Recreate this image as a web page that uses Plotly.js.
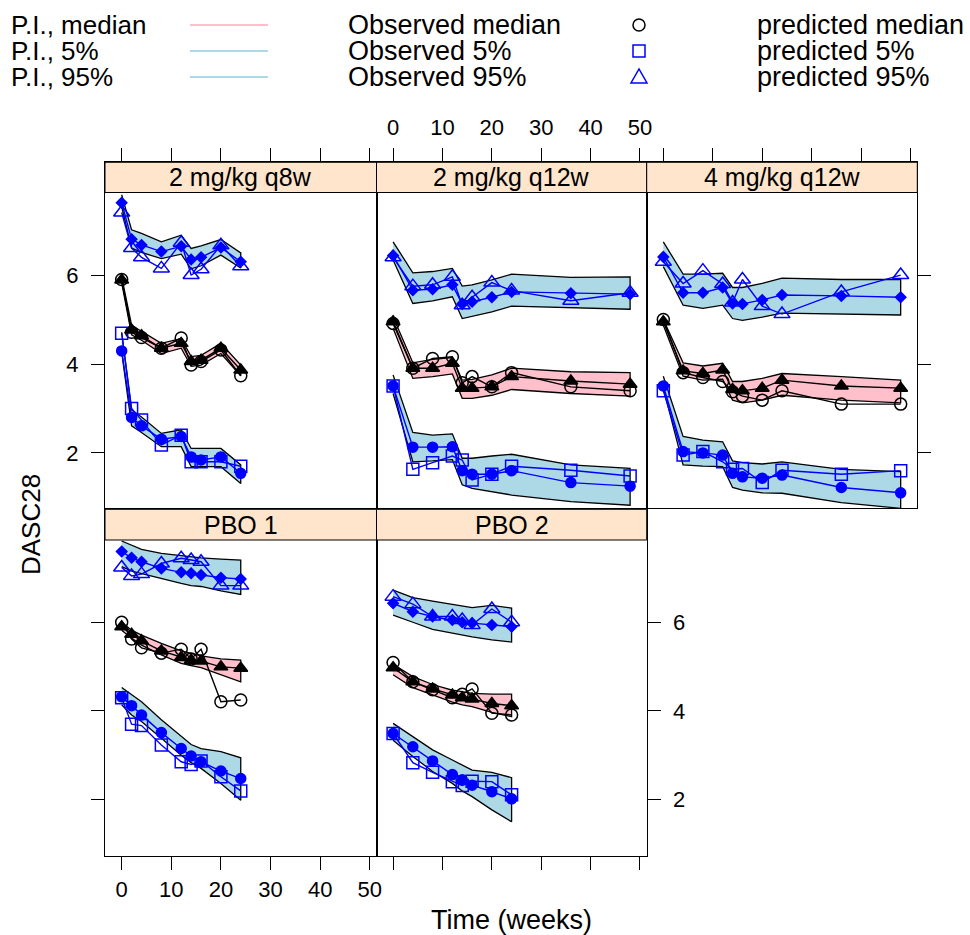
<!DOCTYPE html>
<html>
<head>
<meta charset="utf-8">
<script src="https://cdn.plot.ly/plotly-3.0.1.min.js"></script>
<style>html,body{margin:0;padding:0;background:#fff;}#chart{width:970px;height:935px;}</style>
</head>
<body>
<div id="chart"></div>
<script>
// ---------------- DATA ----------------
const panelNames = ["2 mg/kg q8w", "2 mg/kg q12w", "4 mg/kg q12w", "PBO 1", "PBO 2"];
const xTicks = [0, 10, 20, 30, 40, 50];
const yTicks = [2, 4, 6];

const timeA = [0, 2, 4, 8, 12, 14, 16, 20, 24];          // 2 mg/kg q8w, PBO 1
const timeB = [0, 4, 8, 12, 14, 16, 20, 24, 36, 48];     // 2 mg/kg q12w, 4 mg/kg q12w
const timeC = [0, 4, 8, 12, 14, 16, 20, 24];             // PBO 2

// Panel 1: 2 mg/kg q8w
const p1_obs95  = [7.42, 6.62, 6.41, 6.16, 6.74, 6.01, 6.14, 6.68, 6.21];
const p1_pred95 = [7.64, 6.82, 6.69, 6.54, 6.66, 6.36, 6.41, 6.63, 6.31];
const p1_pi95Hi = [7.82, 7.03, 6.95, 6.76, 6.91, 6.61, 6.67, 6.81, 6.51];
const p1_pi95Lo = [7.55, 6.62, 6.52, 6.38, 6.48, 6.15, 6.22, 6.46, 6.17];
const p1_obsMed  = [5.91, 4.72, 4.60, 4.36, 4.59, 3.98, 4.06, 4.32, 3.74];
const p1_predMed = [5.90, 4.77, 4.64, 4.36, 4.47, 4.06, 4.09, 4.36, 3.87];
const p1_piMedHi = [5.97, 4.88, 4.74, 4.47, 4.58, 4.17, 4.20, 4.47, 3.98];
const p1_piMedLo = [5.84, 4.66, 4.54, 4.24, 4.36, 3.95, 3.98, 4.24, 3.74];
const p1_obs5  = [4.70, 3.00, 2.74, 2.18, 2.40, 1.80, 1.80, 1.80, 1.70];
const p1_pred5 = [4.30, 2.80, 2.61, 2.31, 2.37, 1.91, 1.84, 1.91, 1.54];
const p1_pi5Hi = [4.72, 2.97, 2.81, 2.44, 2.52, 2.10, 2.10, 2.10, 1.73];
const p1_pi5Lo = [4.28, 2.61, 2.46, 2.14, 2.14, 1.69, 1.69, 1.69, 1.31];

// Panel 2: 2 mg/kg q12w
const p2_obs95  = [6.41, 5.76, 5.79, 5.97, 5.33, 5.51, 5.84, 5.66, 5.43, 5.61];
const p2_pred95 = [6.45, 5.67, 5.69, 5.79, 5.36, 5.41, 5.51, 5.63, 5.60, 5.58];
const p2_pi95Hi = [6.76, 6.06, 6.09, 6.16, 5.76, 5.79, 5.90, 6.03, 5.96, 5.97];
const p2_pi95Lo = [6.35, 5.37, 5.43, 5.52, 5.03, 5.07, 5.18, 5.31, 5.27, 5.24];
const p2_obsMed  = [4.92, 3.91, 4.13, 4.17, 3.58, 3.72, 3.49, 3.81, 3.49, 3.40];
const p2_predMed = [4.96, 3.91, 3.91, 4.02, 3.46, 3.46, 3.49, 3.72, 3.62, 3.55];
const p2_piMedHi = [5.07, 4.03, 4.11, 4.15, 3.64, 3.66, 3.76, 3.91, 3.83, 3.81];
const p2_piMedLo = [4.81, 3.68, 3.72, 3.78, 3.23, 3.23, 3.30, 3.43, 3.34, 3.28];
const p2_obs5  = [3.51, 1.63, 1.78, 1.93, 1.84, 1.39, 1.52, 1.70, 1.61, 1.48];
const p2_pred5 = [3.51, 2.13, 2.13, 2.14, 1.60, 1.52, 1.52, 1.60, 1.33, 1.25];
const p2_pi5Hi = [3.76, 2.46, 2.40, 2.43, 1.88, 1.88, 1.93, 1.97, 1.73, 1.65];
const p2_pi5Lo = [3.34, 1.80, 1.82, 1.85, 1.28, 1.20, 1.13, 1.05, 0.90, 0.82];

// Panel 3: 4 mg/kg q12w
const p3_obs95  = [6.31, 5.82, 6.11, 5.81, 5.39, 5.91, 5.31, 5.13, 5.63, 6.01];
const p3_pred95 = [6.42, 5.61, 5.61, 5.73, 5.37, 5.36, 5.45, 5.56, 5.54, 5.51];
const p3_pi95Hi = [6.76, 6.03, 6.03, 6.05, 5.73, 5.73, 5.82, 5.94, 5.91, 5.91];
const p3_pi95Lo = [6.20, 5.33, 5.26, 5.33, 5.03, 4.99, 5.06, 5.15, 5.13, 5.11];
const p3_obsMed  = [5.01, 3.81, 3.70, 3.61, 3.38, 3.28, 3.19, 3.40, 3.10, 3.10];
const p3_predMed = [4.96, 3.85, 3.79, 3.87, 3.43, 3.40, 3.46, 3.64, 3.51, 3.46];
const p3_piMedHi = [5.01, 4.03, 3.96, 4.02, 3.61, 3.61, 3.68, 3.79, 3.72, 3.64];
const p3_piMedLo = [4.88, 3.73, 3.64, 3.66, 3.19, 3.13, 3.19, 3.30, 3.19, 3.13];
const p3_obs5  = [3.40, 1.95, 2.03, 1.80, 1.63, 1.65, 1.33, 1.61, 1.52, 1.60];
const p3_pred5 = [3.51, 2.03, 2.00, 1.95, 1.54, 1.46, 1.43, 1.50, 1.22, 1.10];
const p3_pi5Hi = [3.73, 2.37, 2.29, 2.25, 1.82, 1.78, 1.75, 1.80, 1.63, 1.58];
const p3_pi5Lo = [3.46, 1.73, 1.70, 1.69, 1.22, 1.16, 1.10, 1.09, 0.88, 0.75];

// Panel 4: PBO 1
const p4_obs95  = [7.25, 7.06, 7.10, 7.34, 7.46, 7.42, 7.38, 6.84, 6.84];
const p4_pred95 = [7.61, 7.47, 7.38, 7.23, 7.14, 7.12, 7.08, 7.02, 6.99];
const p4_pi95Hi = [7.85, 7.76, 7.66, 7.57, 7.52, 7.50, 7.47, 7.44, 7.42];
const p4_pi95Lo = [7.27, 7.17, 7.10, 7.00, 6.89, 6.84, 6.82, 6.72, 6.64];
const p4_obsMed  = [6.01, 5.63, 5.43, 5.31, 5.40, 5.18, 5.40, 4.21, 4.25];
const p4_predMed = [5.91, 5.74, 5.59, 5.36, 5.21, 5.15, 5.13, 5.00, 4.97];
const p4_piMedHi = [6.01, 5.83, 5.72, 5.53, 5.36, 5.31, 5.25, 5.18, 5.15];
const p4_piMedLo = [5.83, 5.65, 5.49, 5.27, 5.08, 5.03, 4.98, 4.82, 4.66];
const p4_obs5  = [4.30, 3.70, 3.67, 3.23, 2.85, 2.79, 2.87, 2.51, 2.19];
const p4_pred5 = [4.32, 4.12, 3.91, 3.51, 3.15, 2.98, 2.85, 2.64, 2.47];
const p4_pi5Hi = [4.53, 4.38, 4.21, 3.80, 3.42, 3.24, 3.15, 3.08, 2.94];
const p4_pi5Lo = [4.14, 3.91, 3.76, 3.38, 3.00, 2.83, 2.70, 2.36, 1.98];

// Panel 5: PBO 2
const p5_obs95  = [6.59, 6.42, 6.14, 6.14, 6.06, 5.95, 6.31, 6.01];
const p5_pred95 = [6.44, 6.25, 6.14, 6.06, 6.01, 5.99, 5.95, 5.91];
const p5_pi95Hi = [6.74, 6.57, 6.49, 6.42, 6.39, 6.34, 6.39, 6.33];
const p5_pi95Lo = [6.17, 6.01, 5.85, 5.76, 5.72, 5.68, 5.61, 5.56];
const p5_obsMed  = [5.10, 4.66, 4.48, 4.30, 4.38, 4.50, 3.95, 3.91];
const p5_predMed = [4.98, 4.66, 4.50, 4.36, 4.30, 4.27, 4.17, 4.12];
const p5_piMedHi = [5.06, 4.78, 4.60, 4.47, 4.44, 4.40, 4.38, 4.38];
const p5_piMedLo = [4.82, 4.53, 4.36, 4.20, 4.14, 4.10, 3.97, 3.87];
const p5_obs5  = [3.49, 2.83, 2.61, 2.40, 2.31, 2.41, 2.40, 2.10];
const p5_pred5 = [3.49, 3.19, 2.87, 2.56, 2.44, 2.32, 2.17, 2.01];
const p5_pi5Hi = [3.72, 3.42, 3.12, 2.89, 2.78, 2.66, 2.61, 2.49];
const p5_pi5Lo = [3.34, 2.97, 2.63, 2.36, 2.19, 2.06, 1.76, 1.49];

const legendLeft  = ["P.I., median", "P.I., 5%", "P.I., 95%"];
const legendMid   = ["Observed median", "Observed 5%", "Observed 95%"];
const legendRight = ["predicted median", "predicted 5%", "predicted 95%"];

// ---------------- BUILD ----------------
const panelData = [
  {t: timeA, obs95: p1_obs95, pred95: p1_pred95, pi95Hi: p1_pi95Hi, pi95Lo: p1_pi95Lo, obsMed: p1_obsMed, predMed: p1_predMed, piMedHi: p1_piMedHi, piMedLo: p1_piMedLo, obs5: p1_obs5, pred5: p1_pred5, pi5Hi: p1_pi5Hi, pi5Lo: p1_pi5Lo},
  {t: timeB, obs95: p2_obs95, pred95: p2_pred95, pi95Hi: p2_pi95Hi, pi95Lo: p2_pi95Lo, obsMed: p2_obsMed, predMed: p2_predMed, piMedHi: p2_piMedHi, piMedLo: p2_piMedLo, obs5: p2_obs5, pred5: p2_pred5, pi5Hi: p2_pi5Hi, pi5Lo: p2_pi5Lo},
  {t: timeB, obs95: p3_obs95, pred95: p3_pred95, pi95Hi: p3_pi95Hi, pi95Lo: p3_pi95Lo, obsMed: p3_obsMed, predMed: p3_predMed, piMedHi: p3_piMedHi, piMedLo: p3_piMedLo, obs5: p3_obs5, pred5: p3_pred5, pi5Hi: p3_pi5Hi, pi5Lo: p3_pi5Lo},
  {t: timeA, obs95: p4_obs95, pred95: p4_pred95, pi95Hi: p4_pi95Hi, pi95Lo: p4_pi95Lo, obsMed: p4_obsMed, predMed: p4_predMed, piMedHi: p4_piMedHi, piMedLo: p4_piMedLo, obs5: p4_obs5, pred5: p4_pred5, pi5Hi: p4_pi5Hi, pi5Lo: p4_pi5Lo},
  {t: timeC, obs95: p5_obs95, pred95: p5_pred95, pi95Hi: p5_pi95Hi, pi95Lo: p5_pi95Lo, obsMed: p5_obsMed, predMed: p5_predMed, piMedHi: p5_piMedHi, piMedLo: p5_piMedLo, obs5: p5_obs5, pred5: p5_pred5, pi5Hi: p5_pi5Hi, pi5Lo: p5_pi5Lo}
];

const W = 970, H = 935;
const px = v => v / W;
const py = v => 1 - v / H;
const FONT = "Liberation Sans, Arial, Helvetica, sans-serif";
const PINK = "#FFC0CB", LBLUE = "#ADD8E6", BLUE = "#0000FF";

// column edges (px) and row extents (px)
const cols = [[105, 376.5], [376.5, 646.7], [646.7, 917.3]];
const rows = [
  {stripTop: 162.3, stripBot: 192.5, bot: 508.3, yBot: 0.751, pxu: 44.35},
  {stripTop: 509.3, stripBot: 540.0, bot: 855.8, yBot: 0.720, pxu: 44.15}
];
const pos = [[0, 0], [0, 1], [0, 2], [1, 0], [1, 1]]; // [row, col]

const traces = [];
const layout = {
  width: W, height: H,
  margin: {l: 0, r: 0, t: 0, b: 0},
  paper_bgcolor: "#ffffff",
  plot_bgcolor: "rgba(0,0,0,0)",
  showlegend: false,
  font: {family: FONT, color: "#000", size: 22},
  shapes: [], annotations: []
};

function band(t, hi, lo, color, xa, ya) {
  return {
    x: t.concat(t.slice().reverse()),
    y: hi.concat(lo.slice().reverse()),
    xaxis: xa, yaxis: ya, type: "scatter", mode: "lines",
    fill: "toself", fillcolor: color,
    line: {color: "#000", width: 1.3}, hoverinfo: "skip"
  };
}
function series(t, y, color, symbol, size, xa, ya) {
  return {
    x: t, y: y, xaxis: xa, yaxis: ya, type: "scatter", mode: "lines+markers",
    line: {color: color, width: 1.4},
    marker: {symbol: symbol, size: size, color: color, line: {color: color, width: 1.5}},
    cliponaxis: false
  };
}

panelData.forEach((d, i) => {
  const k = i + 1;
  const xa = "x" + (k === 1 ? "" : k), ya = "y" + (k === 1 ? "" : k);
  const [r, c] = pos[i];
  const R = rows[r], C = cols[c];
  const yTop = R.yBot + (R.bot - R.stripTop) / R.pxu;

  traces.push(band(d.t, d.pi95Hi, d.pi95Lo, LBLUE, xa, ya));
  traces.push(band(d.t, d.piMedHi, d.piMedLo, PINK, xa, ya));
  traces.push(band(d.t, d.pi5Hi, d.pi5Lo, LBLUE, xa, ya));
  traces.push(series(d.t, d.obsMed, "#000", "circle-open", 12, xa, ya));
  traces.push(series(d.t, d.obs5, BLUE, "square-open", 12, xa, ya));
  traces.push(series(d.t, d.obs95, BLUE, "triangle-up-open", 14, xa, ya));
  traces.push(series(d.t, d.predMed, "#000", "triangle-up", 12, xa, ya));
  traces.push(series(d.t, d.pred5, BLUE, "circle", 10, xa, ya));
  traces.push(series(d.t, d.pred95, BLUE, "diamond", 8, xa, ya));

  const xKey = "xaxis" + (k === 1 ? "" : k), yKey = "yaxis" + (k === 1 ? "" : k);
  const topRow = r === 0;
  const xLabels = (i === 1 || i === 3);
  layout[xKey] = {
    domain: [px(C[0]), px(C[1])], anchor: ya, range: [-3.36, 51.36],
    side: topRow ? "top" : "bottom",
    showgrid: false, zeroline: false,
    showline: true, mirror: true, linecolor: "#000", linewidth: 1,
    tickmode: "array", tickvals: xTicks,
    ticks: "outside", ticklen: 13, tickwidth: 1, tickcolor: "#000",
    showticklabels: xLabels, ticklabelstandoff: topRow ? 5 : 1,
    tickfont: {family: FONT, size: 22, color: "#000"}
  };
  let ySide = "left", yLabels = false;
  if (i === 0) { ySide = "left"; yLabels = true; }
  if (i === 2) { ySide = "right"; yLabels = false; }
  if (i === 3) { ySide = "left"; yLabels = false; }
  if (i === 4) { ySide = "right"; yLabels = true; }
  const yTicksOn = (i !== 1);
  layout[yKey] = {
    domain: [py(R.bot), py(R.stripTop)], anchor: xa, range: [R.yBot, yTop],
    side: ySide, showgrid: false, zeroline: false,
    showline: true, mirror: true, linecolor: "#000", linewidth: 1,
    tickmode: "array", tickvals: yTicks,
    ticks: yTicksOn ? "outside" : "", ticklen: 13, tickwidth: 1, tickcolor: "#000",
    showticklabels: yLabels, ticklabelstandoff: 8,
    tickfont: {family: FONT, size: 22, color: "#000"}
  };

  // strip
  layout.shapes.push({
    type: "rect", xref: "paper", yref: "paper", layer: "above",
    x0: px(C[0]), x1: px(C[1]), y0: py(R.stripBot), y1: py(R.stripTop),
    fillcolor: "#FFE5CC", line: {color: "#000", width: 1}
  });
  layout.annotations.push({
    xref: "paper", yref: "paper", x: px((C[0] + C[1]) / 2), y: py((R.stripTop + R.stripBot) / 2),
    text: panelNames[i], showarrow: false, xanchor: "center", yanchor: "middle",
    font: {family: FONT, size: 25, color: "#000"}
  });
});

// axis titles
layout.annotations.push({
  xref: "paper", yref: "paper", x: px(511), y: py(920), text: "Time (weeks)",
  showarrow: false, xanchor: "center", yanchor: "middle", font: {family: FONT, size: 27, color: "#000"}
});
layout.annotations.push({
  xref: "paper", yref: "paper", x: px(31), y: py(524), text: "DASC28", textangle: -90,
  showarrow: false, xanchor: "center", yanchor: "middle", font: {family: FONT, size: 26, color: "#000"}
});

// key (legend) at top
const rowY = [25, 51, 77];
const lineCols = [PINK, LBLUE, LBLUE];
rowY.forEach((yy, j) => {
  layout.annotations.push({xref: "paper", yref: "paper", x: px(9), y: py(yy), text: legendLeft[j],
    showarrow: false, xanchor: "left", yanchor: "middle", font: {family: FONT, size: 26, color: "#000"}});
  layout.annotations.push({xref: "paper", yref: "paper", x: px(346), y: py(yy), text: legendMid[j],
    showarrow: false, xanchor: "left", yanchor: "middle", font: {family: FONT, size: 27, color: "#000"}});
  layout.annotations.push({xref: "paper", yref: "paper", x: px(755), y: py(yy), text: legendRight[j],
    showarrow: false, xanchor: "left", yanchor: "middle", font: {family: FONT, size: 27, color: "#000"}});
  layout.shapes.push({type: "line", xref: "paper", yref: "paper", x0: px(190), x1: px(268), y0: py(yy), y1: py(yy),
    line: {color: lineCols[j], width: 2}});
});
// key symbols
const kx = 639;
layout.shapes.push({type: "circle", xref: "paper", yref: "paper", x0: px(kx - 6), x1: px(kx + 6), y0: py(rowY[0] + 6), y1: py(rowY[0] - 6),
  line: {color: "#000", width: 1.5}});
layout.shapes.push({type: "rect", xref: "paper", yref: "paper", x0: px(kx - 6), x1: px(kx + 6), y0: py(rowY[1] + 6), y1: py(rowY[1] - 6),
  line: {color: BLUE, width: 1.5}});
layout.shapes.push({type: "path", xref: "paper", yref: "paper",
  path: "M " + px(kx - 8) + " " + py(rowY[2] + 6) + " L " + px(kx + 8) + " " + py(rowY[2] + 6) + " L " + px(kx) + " " + py(rowY[2] - 8) + " Z",
  line: {color: BLUE, width: 1.5}});

Plotly.newPlot("chart", traces, layout, {staticPlot: true, displayModeBar: false});
</script>
</body>
</html>
